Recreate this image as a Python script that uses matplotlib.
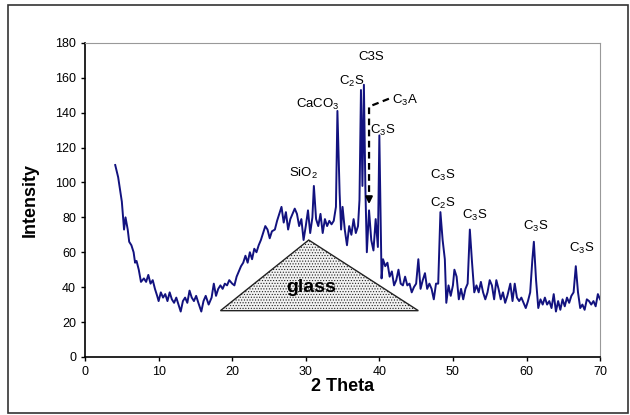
import numpy as np
import matplotlib.pyplot as plt
from matplotlib.patches import Polygon, Rectangle

plt.rcParams['font.family'] = ['Liberation Sans', 'DejaVu Sans']
plt.rcParams['mathtext.fontset'] = 'custom'
plt.rcParams['mathtext.rm'] = 'Liberation Sans'
plt.rcParams['mathtext.default'] = 'regular'
plt.rcParams['hatch.color'] = '#777777'
plt.rcParams['hatch.linewidth'] = 0.5

# XRD pattern: 2 theta and intensity
two_theta = [4.1, 4.5, 5.0, 5.3, 5.5, 5.8, 6.0, 6.3, 6.6, 6.8, 7.0, 7.3, 7.6, 8.0,
             8.3, 8.6, 8.9, 9.2, 9.5, 9.8, 10.0, 10.3, 10.6, 10.9, 11.2, 11.5, 11.8,
             12.1, 12.4, 12.7, 13.0, 13.3, 13.6, 13.9, 14.2, 14.5, 14.8, 15.1, 15.4,
             15.8, 16.1, 16.4, 16.8, 17.2, 17.5, 17.8, 18.1, 18.4, 18.7, 19.0, 19.3,
             19.6, 20.0, 20.3, 20.6, 20.9, 21.2, 21.5, 21.8, 22.1, 22.4, 22.7, 23.0,
             23.3, 23.6, 23.9, 24.2, 24.5, 24.8, 25.1, 25.4, 25.8, 26.1, 26.4, 26.7,
             27.0, 27.3, 27.6, 27.9, 28.2, 28.5, 28.8, 29.1, 29.4, 29.7, 30.0, 30.3,
             30.6, 30.9, 31.1, 31.4, 31.7, 32.0, 32.3, 32.6, 32.9, 33.2, 33.5, 33.8,
             34.1, 34.3, 34.6, 34.8, 35.0, 35.3, 35.6, 35.9, 36.2, 36.5, 36.8, 37.1,
             37.3, 37.5, 37.7, 37.9, 38.1, 38.3, 38.6, 38.9, 39.2, 39.5, 39.8, 40.0,
             40.3, 40.5, 40.8, 41.1, 41.4, 41.7, 42.0, 42.3, 42.6, 42.9, 43.2, 43.5,
             43.8, 44.1, 44.4, 44.7, 45.0, 45.3, 45.6, 45.9, 46.2, 46.5, 46.8, 47.1,
             47.4, 47.7, 48.0, 48.3, 48.6, 48.9, 49.1, 49.4, 49.7, 50.0, 50.2, 50.5,
             50.8, 51.1, 51.4, 51.7, 52.0, 52.3, 52.6, 52.9, 53.2, 53.5, 53.8, 54.1,
             54.4, 54.7, 55.0, 55.3, 55.6, 55.9, 56.2, 56.5, 56.8, 57.1, 57.4, 57.8,
             58.1, 58.4, 58.7, 59.0, 59.3, 59.6, 59.9, 60.2, 60.5, 60.8, 61.0, 61.3,
             61.6, 61.9, 62.2, 62.5, 62.8, 63.1, 63.4, 63.7, 64.0, 64.3, 64.6, 64.9,
             65.2, 65.5, 65.8, 66.1, 66.4, 66.7, 67.0, 67.3, 67.6, 67.9, 68.2, 68.5,
             68.8, 69.1, 69.4, 69.7, 70.0]
intensity = [110, 103, 89, 73, 80, 73, 66, 64, 60, 54, 55, 50, 43, 45,
             43, 47, 42, 44, 39, 35, 32, 37, 34, 36, 32, 37, 33,
             31, 34, 30, 26, 32, 34, 31, 38, 34, 32, 35, 31,
             26, 32, 35, 30, 34, 42, 35, 39, 41, 39, 42, 41,
             44, 42, 41, 46, 49, 52, 54, 58, 54, 60, 56, 62,
             60, 64, 67, 71, 75, 73, 68, 72, 73, 78, 82, 86,
             77, 83, 73, 79, 82, 85, 82, 75, 79, 67, 75, 84,
             71, 80, 98, 79, 75, 82, 71, 79, 75, 78, 76, 78,
             86, 141, 94, 73, 86, 73, 64, 75, 70, 79, 71, 75,
             90, 153, 98, 156, 97, 60, 84, 67, 61, 79, 63, 127,
             45, 56, 52, 54, 46, 49, 41, 44, 50, 42, 41, 46,
             41, 42, 37, 40, 42, 56, 39, 44, 48, 39, 42, 39,
             33, 42, 42, 83, 67, 56, 31, 41, 35, 41, 50, 46,
             33, 39, 33, 39, 42, 73, 54, 37, 41, 37, 43, 37,
             33, 37, 44, 41, 33, 44, 39, 33, 37, 31, 35, 42,
             32, 42, 34, 32, 34, 31, 28, 32, 37, 56, 66, 44,
             28, 33, 30, 34, 30, 32, 28, 36, 26, 32, 27, 33,
             29, 34, 31, 35, 37, 52, 37, 28, 30, 27, 33, 32,
             30, 32, 29, 36, 33]

# peak labels: text, 2 theta, intensity
peak_labels = ['SiO$_2$', 'CaCO$_3$', 'C$_2$S', 'C3S', 'C$_3$A', 'C$_3$S',
               'C$_3$S', 'C$_2$S', 'C$_3$S', 'C$_3$S', 'C$_3$S']
label_x = [29.7, 31.7, 36.2, 38.9, 43.5, 40.5, 48.6, 48.6, 52.9, 61.2, 67.5]
label_y = [105, 145, 158, 172, 147, 130, 104, 88, 81, 75, 62]

# glass hump triangle corners
glass_x = [18.4, 30.4, 45.3]
glass_y = [26.5, 67, 26.5]

fig = plt.figure(figsize=(6.3, 4.15), dpi=100)
fig.patches.append(Rectangle((0.013, 0.004), 0.984, 0.984, transform=fig.transFigure,
                             fill=False, edgecolor='#333333', linewidth=1.2))
ax = fig.add_axes([0.135, 0.14, 0.8175, 0.7566])

tri = Polygon(list(zip(glass_x, glass_y)), closed=True, facecolor='#f2f2f2',
              edgecolor='#222222', linewidth=1.0, hatch='......')
ax.add_patch(tri)
ax.text(30.8, 39.5, 'glass', fontsize=14, fontweight='bold', ha='center', va='center')

ax.plot(two_theta, intensity, color='#12127f', linewidth=1.4)

for t, x, y in zip(peak_labels, label_x, label_y):
    ax.text(x, y, t, fontsize=9.5, ha='center', va='center')

# dashed arrow for C3A
ax.plot([41.3, 38.6, 38.6], [148, 143.5, 92], color='black', linestyle='--',
        linewidth=1.6, dashes=(3, 2))
ax.annotate('', xy=(38.6, 86), xytext=(38.6, 93),
            arrowprops=dict(arrowstyle='-|>', color='black', lw=1.5, mutation_scale=10))

ax.set_xlim(0, 70)
ax.set_ylim(0, 180)
ax.set_xticks(np.arange(0, 71, 10))
ax.set_yticks(np.arange(0, 181, 20))
ax.tick_params(direction='out', length=3, labelsize=9, width=1)
ax.spines['left'].set_linewidth(1.2)
ax.spines['bottom'].set_linewidth(1.2)
ax.spines['top'].set_color('#999999')
ax.spines['right'].set_color('#999999')

ax.set_xlabel('2 Theta', fontsize=13, fontweight='bold', labelpad=0)
ax.set_ylabel('Intensity', fontsize=13, fontweight='bold', labelpad=12)

fig.savefig('out.png', dpi=100)
